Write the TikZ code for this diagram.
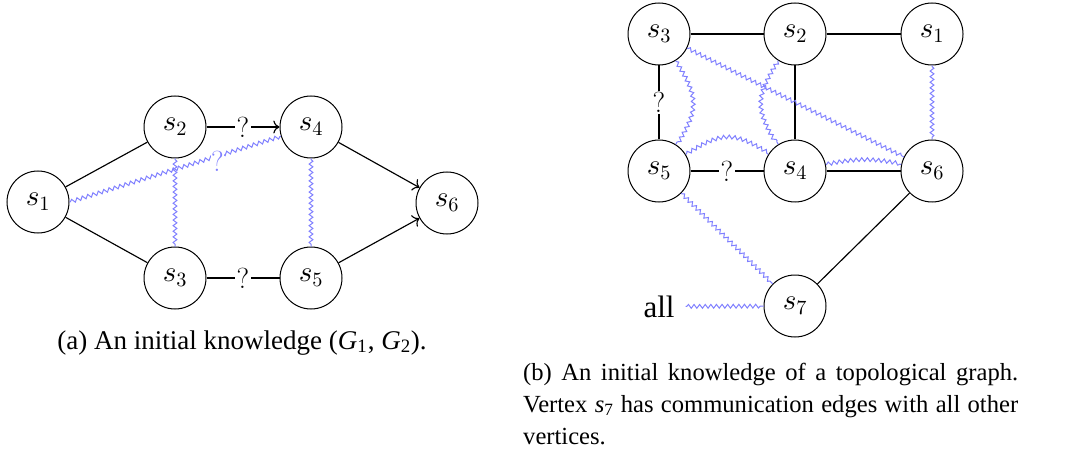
\documentclass[tikz,border=0pt]{standalone}
\usepackage{fontspec}
\DeclareFontShape{OML}{cmm}{m}{it}{<->cmmi10}{}
\DeclareFontShape{OT1}{cmr}{m}{n}{<->cmr10}{}
\newfontfamily\timesfont{Liberation Serif}
\usetikzlibrary{decorations.pathmorphing,arrows.meta}
\tikzset{
  vtx/.style={circle, draw, line width=1pt, minimum size=62pt, inner sep=0pt, font=\fontsize{29}{34}\selectfont},
  edg/.style={line width=1.15pt},
  wavy/.style={draw=blue!50, line width=1pt, decorate, decoration={snake, segment length=5.6pt, amplitude=1.9pt, pre length=1pt, post length=1pt}},
  qlab/.style={fill=white, inner sep=1.5pt, font=\fontsize{29}{34}\selectfont},
  capa/.style={inner sep=0pt, font=\timesfont\fontsize{27}{32}\selectfont},
  capb/.style={inner sep=0pt, font=\timesfont\fontsize{24.6}{32}\selectfont},
  >={To[scale=1.5]}
}
\begin{document}
\begin{tikzpicture}[x=1pt,y=-1pt]
\useasboundingbox (0,0) rectangle (1073,449);
% ---------- (a)
\node[vtx] (a1) at (38,202) {$s_1$};
\node[vtx] (a2) at (175,127) {$s_2$};
\node[vtx] (a4) at (311,127) {$s_4$};
\node[vtx] (a3) at (175,278) {$s_3$};
\node[vtx] (a5) at (311,278) {$s_5$};
\node[vtx] (a6) at (447,203) {$s_6$};
\draw[edg] (a1) -- (a2);
\draw[edg] (a1) -- (a3);
\draw[edg,->] (a2) -- node[qlab] {?} (a4);
\draw[edg] (a3) -- node[qlab] {?} (a5);
\draw[edg,->] (a4) -- (a6);
\draw[edg,->] (a5) -- (a6);
\draw[wavy] (a2) -- (a3);
\draw[wavy] (a4) -- (a5);
\draw[wavy] (a1.east) -- (a4);
\path (a1.east) -- node[qlab, pos=0.7, yshift=-5pt, text=blue!50, inner sep=0.5pt] {?} (a4);
\node[capa, anchor=base] (capa) at (242,349) {(a) An initial knowledge (\textit{G}\textsubscript{1}\kern0.5pt, \textit{G}\textsubscript{2}).};
% ---------- (b)
\node[vtx] (b3) at (659,34) {$s_3$};
\node[vtx] (b2) at (795,34) {$s_2$};
\node[vtx] (b1) at (932,34) {$s_1$};
\node[vtx] (b5) at (659,171) {$s_5$};
\node[vtx] (b4) at (795,171) {$s_4$};
\node[vtx] (b6) at (932,171) {$s_6$};
\node[vtx] (b7) at (795,306) {$s_7$};
\node[inner sep=0pt, font=\timesfont\fontsize{31}{36}\selectfont, anchor=base] (all) at (659,317) {all};
\draw[edg] (b3) -- (b2);
\draw[edg] (b2) -- (b1);
\draw[edg] (b3) -- node[qlab] {?} (b5);
\draw[edg] (b2) -- (b4);
\draw[edg] (b5) -- node[qlab] {?} (b4);
\draw[edg] (b4) -- (b6);
\draw[edg] (b6) -- (b7);
\draw[wavy] (b3) to[bend left=32, looseness=1.3] (b5);
\draw[wavy] (b2) to[bend right=32, looseness=1.3] (b4);
\draw[wavy] (b5) to[bend left=32, looseness=1.3] (b4);
\draw[wavy] (b4) to[bend left=12] (b6);
\draw[wavy] (b3) -- (b6);
\draw[wavy] (b1) -- (b6);
\draw[wavy] (b5) -- (b7);
\draw[wavy] ([xshift=11pt]all.east) -- (b7);
\node[capb, anchor=base west] (capb1) at (523,380) {\makebox[495pt][s]{(b) An initial knowledge of a topological graph.}};
\node[capb, anchor=base west] (capb2) at (523,412) {\makebox[495pt][s]{Vertex \textit{s}\textsubscript{7} has communication edges with all other}};
\node[capb, anchor=base west] (capb3) at (523,444) {vertices.};
\end{tikzpicture}
\end{document}
